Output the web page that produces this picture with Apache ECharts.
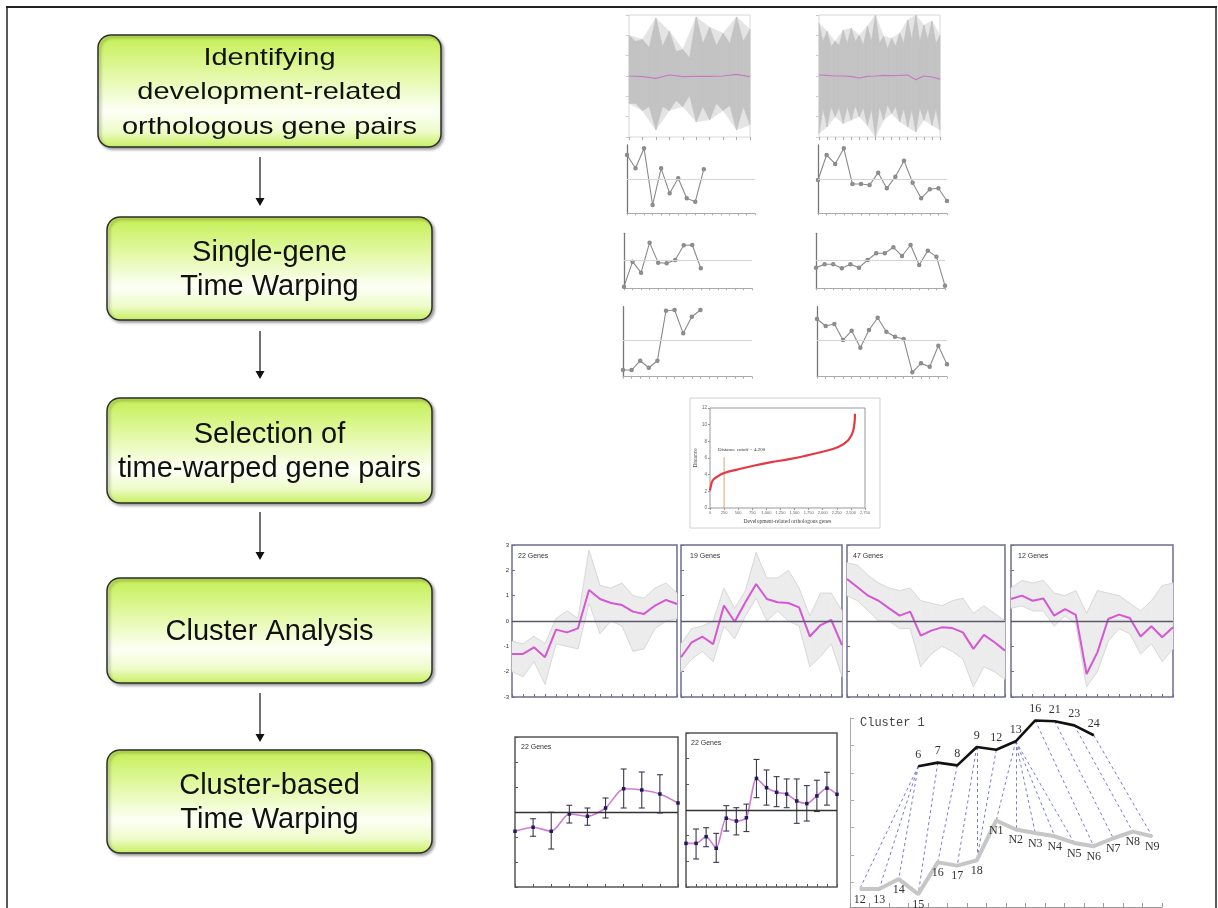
<!DOCTYPE html>
<html>
<head>
<meta charset="utf-8">
<script src="https://cdn.jsdelivr.net/npm/echarts@6/dist/echarts.min.js"></script>
<style>
  html, body { margin: 0; padding: 0; background: #fff; }
  #main { width: 1218px; height: 908px; }
</style>
</head>
<body>
<div id="main"></div>
<script>
// ---- flowchart text ----
var stepLabels = [
    'Identifying\ndevelopment-related\northologous gene pairs',
    'Single-gene\nTime Warping',
    'Selection of\ntime-warped gene pairs',
    'Cluster Analysis',
    'Cluster-based\nTime Warping'
];

// ---- top: all profiles (grey envelope) + mean (purple) ----
var topAX = [0,0.5,1,1.5,2,2.5,3,3.5,4,4.5,5,5.5,6,6.5,7,7.5,8,8.5,9];
var topAUp = [2.0,1.7,1.8,1.4,2.85,1.45,2.2,1.2,1.3,0.9,2.9,1.6,2.4,1.5,2.1,1.6,2.9,1.7,2.3];
var topALow = [-1.35,-1.35,-1.7,-1.5,-2.65,-1.5,-1.7,-1.2,-1.5,-0.95,-2.25,-1.5,-2.15,-1.35,-1.7,-1.45,-2.65,-1.5,-2.4];
var topAMean = [0,-0.03,-0.12,0.05,-0.03,-0.02,-0.02,0,0.08,-0.03];

var topBX = [0,0.5,1,1.5,2,2.5,3,3.5,4,4.5,5,5.5,6,6.5,7,7.5,8,8.5,9,9.5,10,10.5,11,11.5,12,12.5,13,13.5,14,14.5,15];
var topBUp = [2.6,1.7,2.2,1.45,1.7,1.5,2.25,1.6,2.35,1.7,2.0,1.5,2.45,1.7,3.0,1.6,1.95,1.35,1.85,1.45,2.1,1.6,2.75,1.8,3.0,1.7,2.5,1.8,2.7,1.6,2.0];
var topBLow = [-2.83,-1.6,-2.5,-1.5,-2.0,-1.55,-2.33,-1.5,-2.17,-1.45,-2.0,-1.55,-2.42,-1.6,-3.0,-1.5,-2.17,-1.4,-1.84,-1.5,-2.25,-1.6,-2.5,-1.65,-2.75,-1.55,-2.17,-1.6,-2.42,-1.6,-2.66];
var topBMean = [0.05,0.03,0,0,-0.03,-0.1,-0.02,0,0.03,0.02,0.03,0.05,-0.18,0,-0.05,-0.15];

// ---- single gene profiles (left = 10 points, right = 16 points) ----
var geneL1 = [1.44,0.64,1.84,-1.56,0.64,-0.86,0.04,-1.16,-1.36,0.58];
var geneR1 = [-0.06,1.44,0.9,1.84,-0.3,-0.3,-0.36,0.38,-0.56,0.14,1.1,-0.22,-1.16,-0.62,-0.56,-1.32];
var geneL2 = [-1.56,-0.06,-0.72,1.08,-0.12,-0.16,0.04,0.92,0.94,-0.46];
var geneR2 = [-0.42,-0.22,-0.22,-0.46,-0.22,-0.42,0.04,0.44,0.44,0.8,0.28,0.94,-0.26,0.6,0.24,-1.5];
var geneL3 = [-1.76,-1.76,-1.2,-1.62,-1.2,1.8,1.84,0.44,1.44,1.84];
var geneR3 = [1.3,0.88,1.0,0.04,0.6,-0.42,0.64,1.38,0.54,0.24,0.1,-1.9,-1.36,-1.56,-0.3,-1.42];

// ---- distance curve ----
var distX = [0,15,47,137,250,500,790,1087,1384,1680,1978,2275,2453,2542,2572];
var distY = [2.1,2.6,3.3,3.8,4.2,4.64,5.1,5.5,5.84,6.24,6.72,7.32,8.12,9.3,11.3];
var distCutoffX = 250;
var distCutoffTop = 6.1;
var distCutoffText = 'Distance cutoff = 4.200';

// ---- clusters: mean (pink) and spread of member genes ----
var clusterNames = ['22 Genes', '19 Genes', '47 Genes', '12 Genes'];
var clPink1 = [-1.3,-1.3,-1.04,-1.43,-0.34,-0.45,-0.29,1.22,0.87,0.71,0.63,0.37,0.28,0.61,0.83,0.67];
var clPink2 = [-1.43,-0.84,-0.62,-0.91,0.61,-0.03,0.74,1.46,0.87,0.74,0.71,0.54,-0.61,-0.16,0.04,-0.95];
var clPink3 = [1.66,1.33,1.0,0.8,0.5,0.21,0.37,-0.58,-0.38,-0.25,-0.28,-0.45,-1.1,-0.55,-0.84,-1.17];
var clPink4 = [0.87,1.0,0.8,0.89,0.21,0.47,0.24,-2.09,-1.24,0.08,0.25,0.12,-0.61,-0.21,-0.64,-0.25];
var clUp1 = [-0.8,-0.9,-0.6,-0.9,0.1,0.4,0.1,2.8,1.4,1.3,1.5,1.0,0.9,1.3,1.5,1.1];
var clLow1 = [-2.0,-2.2,-1.6,-2.5,-0.9,-1.0,-1.1,0.7,-0.5,0.0,-0.2,-1.2,-1.1,-0.3,0.0,0.1];
var clUp2 = [-0.9,-0.3,-0.2,0.0,1.3,0.5,1.2,2.7,1.7,1.7,2.0,1.3,0.2,1.1,1.1,0.4];
var clLow2 = [-2.0,-1.5,-1.2,-1.6,-0.2,-0.7,0.2,0.9,0.0,0.4,0.0,-0.2,-1.8,-1.4,-0.9,-2.2];
var clUp3 = [2.3,2.2,1.8,1.5,1.3,1.2,1.3,0.8,0.7,0.6,0.8,0.9,0.3,0.6,0.3,0.0];
var clLow3 = [1.0,0.8,0.4,0.0,0.0,-0.3,-0.3,-1.8,-1.3,-1.0,-1.2,-1.5,-2.6,-1.8,-2.0,-2.3];
var clUp4 = [1.3,1.6,1.5,1.6,1.1,1.0,1.2,0.3,1.2,1.1,1.0,0.7,0.4,0.8,1.4,1.5];
var clLow4 = [0.5,0.6,0.4,0.4,-0.2,0.2,-0.1,-2.6,-2.0,-0.8,-0.3,-0.5,-1.3,-0.9,-1.6,-1.1];

// ---- cluster means with error bars ----
var ebName = '22 Genes';
var ebMean1 = [-0.77,-0.61,-0.77,-0.08,-0.17,0.16,0.93,0.88,0.72,0.36];
var ebLow1 = [null,-0.97,-1.48,-0.44,-0.53,-0.24,0.16,0.16,-0.04,null];
var ebHigh1 = [null,-0.27,-0.01,0.27,0.16,0.56,1.72,1.6,1.49,null];
var ebMean2 = [-1.3,-1.3,-1.04,-1.49,-0.32,-0.43,-0.3,1.23,0.87,0.69,0.62,0.35,0.25,0.55,0.85,0.61];
var ebLow2 = [null,-1.91,-1.43,-2.04,-0.82,-0.97,-0.84,0.48,0.19,0.13,0.09,-0.52,-0.43,-0.06,0.19,null];
var ebHigh2 = [null,-0.74,-0.69,-0.91,0.17,0.09,0.23,1.97,1.56,1.3,1.21,1.21,0.95,1.16,1.47,null];

// ---- cluster based warping ----
var warpTitle = 'Cluster 1';
var warpGreyLabels = ['12','13','14','15','16','17','18','N1','N2','N3','N4','N5','N6','N7','N8','N9'];
var warpGrey = [0.76,0.76,1.12,0.57,1.73,1.61,1.8,3.26,2.93,2.8,2.68,2.44,2.32,2.61,2.85,2.68];
var warpBlackLabels = ['6','7','8','9','12','13','16','21','23','24'];
var warpBlackX = [3,4,5,6,7,8,9,10,11,12];
var warpBlack = [5.24,5.37,5.27,5.94,5.84,6.15,6.91,6.88,6.73,6.37];
// [black point, grey point]
var warpPairs = [[0,0],[0,1],[0,2],[1,3],[2,4],[3,5],[3,6],[4,6],[5,7],[5,8],[5,9],[5,10],[5,11],[6,12],[7,13],[8,14],[9,15]];

var chart = echarts.init(document.getElementById('main'));

var grids = [], xAxes = [], yAxes = [], series = [];

function addPanel(box, gridExtra, xa, ya) {
    var i = grids.length;
    grids.push(Object.assign({ left: box[0], top: box[1], width: box[2], height: box[3], outerBoundsMode: 'none' }, gridExtra));
    xa.gridIndex = i;
    ya.gridIndex = i;
    xAxes.push(xa);
    yAxes.push(ya);
    return i;
}

function valAxis(min, max, extra) {
    return Object.assign({
        type: 'value', min: min, max: max,
        splitLine: { show: false },
        axisLabel: { show: false },
        axisTick: { show: false },
        axisLine: { show: false, onZero: false }
    }, extra || {});
}

function idx(list) {
    return list.map(function (v, i) { return [i, v]; });
}

// band between an upper and a lower envelope
function bandSeries(g, xs, up, low, color, z) {
    var data = [];
    for (var i = 0; i < xs.length - 1; i++) {
        data.push([xs[i], up[i], low[i], xs[i + 1], up[i + 1], low[i + 1]]);
    }
    return {
        type: 'custom', xAxisIndex: g, yAxisIndex: g, silent: true, z: z || 1,
        data: data,
        encode: { x: [0, 3], y: [1, 2, 4, 5] },
        renderItem: function (params, api) {
            var a = api.coord([api.value(0), api.value(1)]);
            var b = api.coord([api.value(3), api.value(4)]);
            var c = api.coord([api.value(3), api.value(5)]);
            var d = api.coord([api.value(0), api.value(2)]);
            return {
                type: 'polygon',
                shape: { points: [a, b, c, d] },
                style: { fill: color, stroke: color, lineWidth: 0.6 }
            };
        }
    };
}

// keep only the whole-step points (the spike tips)
function tips(list, xs) {
    return list.filter(function (v, i) { return xs[i] % 1 === 0; });
}

function zeroLine(color, width) {
    return {
        silent: true, symbol: 'none',
        label: { show: false },
        lineStyle: { color: color, width: width, type: 'solid' },
        data: [{ yAxis: 0 }]
    };
}

// ---------- top two overview panels ----------
[[629, topAX, topAUp, topALow, topAMean, 9], [819, topBX, topBUp, topBLow, topBMean, 15]].forEach(function (p) {
    var g = addPanel([p[0], 15, 121, 122], { show: true, borderColor: '#d8d8d8', borderWidth: 1 },
        valAxis(0, p[5], { interval: 1, axisTick: { show: true, length: 3, lineStyle: { color: '#aaa' } } }),
        valAxis(-3, 3, { interval: 1, axisTick: { show: true, length: 3, lineStyle: { color: '#ccc' } } }));
    var tipX = tips(p[1], p[1]);
    series.push(bandSeries(g, tipX, tips(p[2], p[1]), tips(p[3], p[1]), '#e4e4e4', 1));
    series.push(bandSeries(g, p[1], p[2], p[3], '#c3c3c3', 2));
    series.push({
        type: 'line', xAxisIndex: g, yAxisIndex: g, data: idx(p[4]), symbol: 'none', z: 3,
        lineStyle: { color: '#c77ac7', width: 1.2 }
    });
});

// ---------- six single gene panels ----------
var genePanels = [
    [geneL1, 627, 145, 128, 68.3, -2.06, 2.04],
    [geneR1, 818, 145, 129, 68.3, -2.06, 2.04],
    [geneL2, 624, 233.3, 128, 55, -1.66, 1.64],
    [geneR2, 816, 233.3, 129, 55, -1.66, 1.64],
    [geneL3, 623, 306.7, 129, 70, -2.16, 2.04],
    [geneR3, 817, 306.7, 130, 70, -2.16, 2.04]
];
genePanels.forEach(function (p) {
    var g = addPanel([p[1], p[2], p[3], p[4]], {},
        valAxis(0, 15, {
            interval: 1,
            axisLine: { show: true, onZero: false, lineStyle: { color: '#aaa', width: 1 } },
            axisTick: { show: true, length: 2, lineStyle: { color: '#aaa' } }
        }),
        valAxis(p[5], p[6], {
            axisLine: { show: true, onZero: false, lineStyle: { color: '#777', width: 1.3 } }
        }));
    series.push({
        type: 'line', xAxisIndex: g, yAxisIndex: g, data: idx(p[0]),
        symbol: 'emptyCircle', symbolSize: 2.5,
        lineStyle: { color: '#8a8a8a', width: 1.1 },
        itemStyle: { color: '#8a8a8a', borderWidth: 0.7 },
        markLine: zeroLine('#d4d4d4', 1)
    });
});

// ---------- distance curve ----------
var gd = addPanel([710, 408, 155, 100], { show: true, borderColor: '#999', borderWidth: 1 },
    valAxis(0, 2750, {
        interval: 250,
        name: 'Development-related orthologous genes', nameLocation: 'middle', nameGap: 11,
        nameTextStyle: { fontSize: 5.5, color: '#444', fontFamily: 'Liberation Serif' },
        axisLabel: { show: true, fontSize: 4, margin: 3, color: '#666' },
        axisTick: { show: true, length: 2, lineStyle: { color: '#999' } }
    }),
    valAxis(0, 12, {
        interval: 2,
        name: 'Distance', nameLocation: 'middle', nameGap: 10,
        nameTextStyle: { fontSize: 5.5, color: '#444', fontFamily: 'Liberation Serif' },
        axisLabel: { show: true, fontSize: 4.5, margin: 3, color: '#666' },
        axisTick: { show: true, length: 2, lineStyle: { color: '#999' } }
    }));
series.push({
    type: 'line', xAxisIndex: gd, yAxisIndex: gd, data: [[distCutoffX, 0], [distCutoffX, distCutoffTop]],
    symbol: 'none', lineStyle: { color: '#d9a56a', width: 1 }, z: 2
});
series.push({
    type: 'line', xAxisIndex: gd, yAxisIndex: gd, smooth: 0.4,
    data: distX.map(function (x, i) { return [x, distY[i]]; }),
    symbol: 'none', lineStyle: { color: '#e53845', width: 2.2 }, z: 3
});

// ---------- four cluster panels ----------
var clusterBoxes = [[512, 165], [681, 161], [847, 158], [1011, 162]];
var clPinks = [clPink1, clPink2, clPink3, clPink4];
var clUps = [clUp1, clUp2, clUp3, clUp4];
var clLows = [clLow1, clLow2, clLow3, clLow4];
var xIdx16 = clPink1.map(function (v, i) { return i; });
clusterBoxes.forEach(function (b, k) {
    var g = addPanel([b[0], 545, b[1], 152], { show: true, borderColor: '#6e6e8e', borderWidth: 1.5 },
        valAxis(0, 15, {
            interval: 1,
            axisTick: { show: true, inside: true, length: 3, lineStyle: { color: '#6e6e8e' } }
        }),
        valAxis(-3, 3, {
            interval: 1,
            axisTick: { show: true, inside: true, length: 3, lineStyle: { color: '#6e6e8e' } },
            axisLabel: { show: k === 0, fontSize: 6, margin: 3, color: '#333', fontFamily: 'Liberation Sans' }
        }));
    series.push(bandSeries(g, xIdx16, clUps[k], clLows[k], '#ececec'));
    [clUps[k], clLows[k]].forEach(function (env) {
        series.push({
            type: 'line', xAxisIndex: g, yAxisIndex: g, data: idx(env), symbol: 'none', z: 2,
            lineStyle: { color: '#d2d2d2', width: 0.8 }
        });
    });
    series.push({
        type: 'line', xAxisIndex: g, yAxisIndex: g, data: idx(clPinks[k]), symbol: 'none', z: 4,
        lineStyle: { color: '#d457d4', width: 2 },
        markLine: zeroLine('#5a5a6a', 1.3)
    });
});

// ---------- error bar panels ----------
var ebPanels = [
    [515, 737, 163, 150, 9, ebMean1, ebLow1, ebHigh1],
    [686, 733, 151, 154, 15, ebMean2, ebLow2, ebHigh2]
];
ebPanels.forEach(function (p) {
    var g = addPanel([p[0], p[1], p[2], p[3]], { show: true, borderColor: '#555', borderWidth: 1.5 },
        valAxis(0, p[4], {
            interval: 1,
            axisTick: { show: true, inside: true, length: 3, lineStyle: { color: '#555' } }
        }),
        valAxis(-3, 3, {
            interval: 1,
            axisTick: { show: true, inside: true, length: 3, lineStyle: { color: '#555' } }
        }));
    var bars = [];
    p[6].forEach(function (lo, i) {
        if (lo !== null) bars.push([i, lo, p[7][i]]);
    });
    series.push({
        type: 'custom', xAxisIndex: g, yAxisIndex: g, data: bars, z: 3, silent: true,
        encode: { x: 0, y: [1, 2] },
        renderItem: function (params, api) {
            var lo = api.coord([api.value(0), api.value(1)]);
            var hi = api.coord([api.value(0), api.value(2)]);
            var st = { stroke: '#3a3a4a', lineWidth: 1.1 };
            return {
                type: 'group',
                children: [
                    { type: 'line', shape: { x1: lo[0], y1: lo[1], x2: hi[0], y2: hi[1] }, style: st },
                    { type: 'line', shape: { x1: lo[0] - 3, y1: lo[1], x2: lo[0] + 3, y2: lo[1] }, style: st },
                    { type: 'line', shape: { x1: hi[0] - 3, y1: hi[1], x2: hi[0] + 3, y2: hi[1] }, style: st }
                ]
            };
        }
    });
    series.push({
        type: 'line', xAxisIndex: g, yAxisIndex: g, data: idx(p[5]), smooth: 0.25, z: 4,
        symbol: 'rect', symbolSize: 3.5,
        itemStyle: { color: '#1c1c5c' },
        lineStyle: { color: '#d27ad2', width: 1.6 },
        markLine: zeroLine('#333', 1.3)
    });
});

// ---------- cluster based warping ----------
var warpTicksX = [];
for (var t = -0.5; t <= 15.5; t += 1) warpTicksX.push(t);
var gw = addPanel([850, 718, 312, 189], {},
    valAxis(-0.5, 15.5, {
        axisLine: { show: true, onZero: false, lineStyle: { color: '#999', width: 1 } },
        axisTick: { show: true, inside: true, length: 4, customValues: warpTicksX, lineStyle: { color: '#999' } }
    }),
    valAxis(0.1, 7, {
        axisLine: { show: true, onZero: false, lineStyle: { color: '#aaa', width: 1 } },
        axisTick: { show: true, inside: true, length: 4, customValues: [1, 2, 3, 4, 5, 6, 7], lineStyle: { color: '#aaa' } }
    }));
series.push({
    type: 'lines', coordinateSystem: 'cartesian2d', xAxisIndex: gw, yAxisIndex: gw, silent: true, z: 2,
    data: warpPairs.map(function (p) {
        return { coords: [[warpBlackX[p[0]], warpBlack[p[0]]], [p[1], warpGrey[p[1]]]] };
    }),
    lineStyle: { color: '#6262c4', width: 1, type: [3, 3], opacity: 0.85 }
});
series.push({
    type: 'line', xAxisIndex: gw, yAxisIndex: gw, data: idx(warpGrey), z: 3,
    symbol: 'circle', symbolSize: 1, itemStyle: { color: '#c4c4c4' },
    lineStyle: { color: '#c6c6c6', width: 4 },
    label: {
        show: true, position: 'bottom', distance: 4, fontSize: 12, color: '#333',
        fontFamily: 'Liberation Serif',
        formatter: function (p) { return warpGreyLabels[p.dataIndex]; }
    }
});
series.push({
    type: 'line', xAxisIndex: gw, yAxisIndex: gw, z: 4,
    data: warpBlack.map(function (v, i) { return [warpBlackX[i], v]; }),
    symbol: 'circle', symbolSize: 1, itemStyle: { color: '#111' },
    lineStyle: { color: '#111', width: 2.6 },
    label: {
        show: true, position: 'top', distance: 5, fontSize: 12, color: '#333',
        fontFamily: 'Liberation Serif',
        formatter: function (p) { return warpBlackLabels[p.dataIndex]; }
    }
});

// ---------- flowchart + page frame (graphic) ----------
var graphics = [];
var boxes = [[98, 35, 343, 112], [107, 217, 325, 103], [107, 398, 325, 105], [107, 578, 325, 105], [107, 750, 325, 103]];
var boxFill = {
    type: 'linear', x: 0, y: 0, x2: 0, y2: 1,
    colorStops: [
        { offset: 0, color: '#c4ee52' },
        { offset: 0.35, color: '#e2f9a4' },
        { offset: 0.68, color: '#fdfff6' },
        { offset: 0.86, color: '#eefbc8' },
        { offset: 1, color: '#c6ef5c' }
    ]
};
boxes.forEach(function (b, i) {
    graphics.push({
        type: 'rect', shape: { x: b[0], y: b[1], width: b[2], height: b[3], r: 13 },
        style: { fill: boxFill, stroke: '#2c2c2c', lineWidth: 1.5, shadowBlur: 3, shadowOffsetX: 2, shadowOffsetY: 2, shadowColor: 'rgba(0,0,0,0.35)' }
    });
    graphics.push({
        type: 'text', x: b[0] + b[2] / 2, y: b[1] + b[3] / 2 + (i === 0 ? 2 : 1),
        scaleY: i === 0 ? 0.8 : 1,
        style: {
            text: stepLabels[i], font: '29px "Liberation Sans"', fill: '#111',
            align: 'center', verticalAlign: 'middle', lineHeight: i === 0 ? 43 : 34
        },
        z: 10
    });
});
[[157, 206], [331, 379], [512, 560], [693, 742]].forEach(function (a) {
    graphics.push({ type: 'line', shape: { x1: 260, y1: a[0], x2: 260, y2: a[1] - 4 }, style: { stroke: '#111', lineWidth: 1.2 } });
    graphics.push({ type: 'polygon', shape: { points: [[255.5, a[1] - 8], [264.5, a[1] - 8], [260, a[1]]] }, style: { fill: '#111' } });
});
graphics.push({ type: 'line', shape: { x1: 6, y1: 7, x2: 1217, y2: 7 }, style: { stroke: '#222', lineWidth: 2 } });
graphics.push({ type: 'line', shape: { x1: 7, y1: 6, x2: 7, y2: 908 }, style: { stroke: '#222', lineWidth: 1.5 } });
graphics.push({ type: 'line', shape: { x1: 1216, y1: 6, x2: 1216, y2: 908 }, style: { stroke: '#222', lineWidth: 1.5 } });
// distance chart outer frame
graphics.push({ type: 'rect', shape: { x: 690, y: 398, width: 190, height: 130 }, style: { fill: 'none', stroke: '#d0d0d0', lineWidth: 1 } });
graphics.push({ type: 'text', x: 718, y: 450, style: { text: distCutoffText, font: '5px "Liberation Serif"', fill: '#333', verticalAlign: 'middle' } });
// panel titles
[[518, 556], [690, 556], [853, 556], [1018, 556]].forEach(function (p, k) {
    graphics.push({ type: 'text', x: p[0], y: p[1], style: { text: clusterNames[k], font: '7px "Liberation Sans"', fill: '#333', verticalAlign: 'middle' } });
});
graphics.push({ type: 'text', x: 521, y: 747, style: { text: ebName, font: '7px "Liberation Sans"', fill: '#333', verticalAlign: 'middle' } });
graphics.push({ type: 'text', x: 691, y: 743, style: { text: ebName, font: '7px "Liberation Sans"', fill: '#333', verticalAlign: 'middle' } });
graphics.push({ type: 'text', x: 860, y: 723, style: { text: warpTitle, font: '12px "Liberation Mono"', fill: '#444', verticalAlign: 'middle' } });

chart.setOption({
    backgroundColor: '#ffffff',
    animation: false,
    grid: grids,
    xAxis: xAxes,
    yAxis: yAxes,
    series: series,
    graphic: graphics
});
</script>
</body>
</html>
